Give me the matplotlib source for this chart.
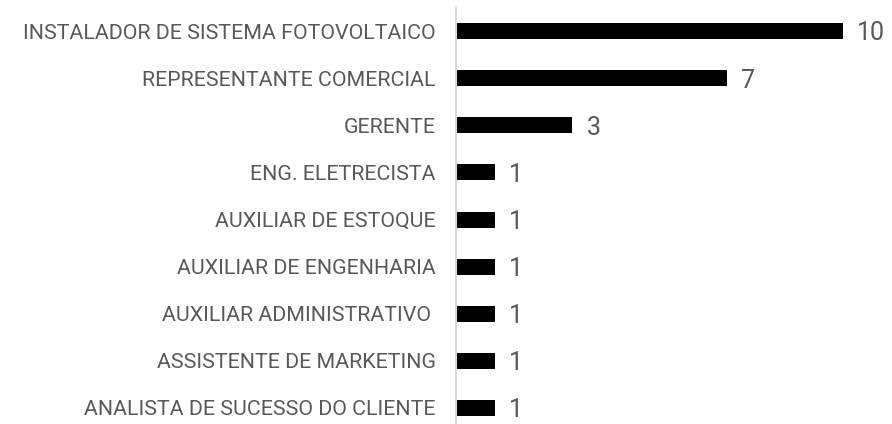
import matplotlib.pyplot as plt

cargos = [
    "ANALISTA DE SUCESSO DO CLIENTE",
    "ASSISTENTE DE MARKETING",
    "AUXILIAR ADMINISTRATIVO ",
    "AUXILIAR DE ENGENHARIA",
    "AUXILIAR DE ESTOQUE",
    "ENG. ELETRECISTA",
    "GERENTE",
    "REPRESENTANTE COMERCIAL",
    "INSTALADOR DE SISTEMA FOTOVOLTAICO",
]
quantidade = [1, 1, 1, 1, 1, 1, 3, 7, 10]

plt.rcParams['font.family'] = ['Roboto', 'DejaVu Sans']

W, H = 892, 424
fig = plt.figure(figsize=(W / 100, H / 100), dpi=100)
ax = fig.add_axes([456 / W, 0, 1 - 456 / W, 1 - 7.5 / H])

pos = range(len(cargos))
ax.barh(pos, quantidade, height=0.34, color='black')

for y, v in zip(pos, quantidade):
    ax.text(v + 0.38, y - 0.05, str(v), va='center', ha='left', fontsize=18,
            color='#595959')

ax.set_xlim(0, 436 / 38.65)
ax.set_ylim(-0.34, 8.5)
ax.set_yticks(list(pos))
ax.set_yticklabels(cargos, fontsize=15.4, color='#595959')
ax.tick_params(axis='y', length=0, pad=14.5)
ax.set_xticks([])
for s in ['top', 'right', 'bottom']:
    ax.spines[s].set_visible(False)
ax.spines['left'].set_color('#d9d9d9')
ax.spines['left'].set_linewidth(1.5)

fig.savefig('out.png', dpi=100)
